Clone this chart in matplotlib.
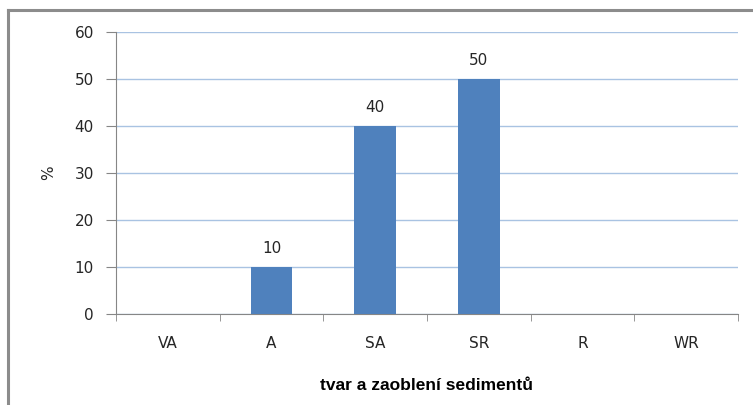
import numpy as np
import matplotlib.pyplot as plt
from matplotlib.lines import Line2D

plt.rcParams['font.family'] = ['DejaVu Sans']

# data
kategorie = ['VA', 'A', 'SA', 'SR', 'R', 'WR']
procenta = [0, 10, 40, 50, 0, 0]
y_ticks = [0, 10, 20, 30, 40, 50, 60]

bar_col = '#4f81bd'
grid_col = '#a9c3e2'
axis_col = '#868686'
txt_col = '#262626'

fig = plt.figure(figsize=(7.53, 4.05), dpi=100)
ax = fig.add_axes([116/753, 1 - 314/405, (738 - 116)/753, (314 - 32)/405])

x = np.arange(len(kategorie))
ax.bar(x, procenta, width=0.4, color=bar_col, zorder=3)

for xi, v in zip(x, procenta):
    if v > 0:
        ax.annotate(str(v), (xi, v), xytext=(0, 8), textcoords='offset points',
                    ha='center', va='bottom', fontsize=11, color=txt_col)

ax.set_xlim(-0.5, len(kategorie) - 0.5)
ax.set_ylim(0, 60)
ax.set_yticks(y_ticks)
ax.yaxis.grid(True, color=grid_col, linewidth=1)
ax.set_axisbelow(True)

# category labels centred, ticks on boundaries
ax.set_xticks(x)
ax.set_xticklabels(kategorie, fontsize=11, color=txt_col)
ax.tick_params(axis='x', length=0, pad=16)
ax.set_xticks(np.arange(len(kategorie) + 1) - 0.5, minor=True)
ax.tick_params(axis='x', which='minor', length=5, color=axis_col, direction='out')
ax.tick_params(axis='y', length=7, color=axis_col, pad=9, labelsize=11,
               labelcolor=txt_col)

for s in ['top', 'right']:
    ax.spines[s].set_visible(False)
ax.spines['left'].set_color(axis_col)
ax.spines['bottom'].set_color(axis_col)

ax.set_ylabel('%', fontsize=11, labelpad=13, color=txt_col)
ax.set_xlabel('tvar a zaoblení sedimentů', fontsize=12.5, fontweight='bold',
              family='Liberation Sans', labelpad=19)

# outer frame (only top and left visible)
fig.add_artist(Line2D([8/753, 8/753], [0, 1 - 10/405], transform=fig.transFigure,
                      color='#8c8c8c', linewidth=2.2))
fig.add_artist(Line2D([8/753, 752/753], [1 - 10/405, 1 - 10/405], transform=fig.transFigure,
                      color='#8c8c8c', linewidth=2.2))

fig.savefig('out.png', dpi=100)
